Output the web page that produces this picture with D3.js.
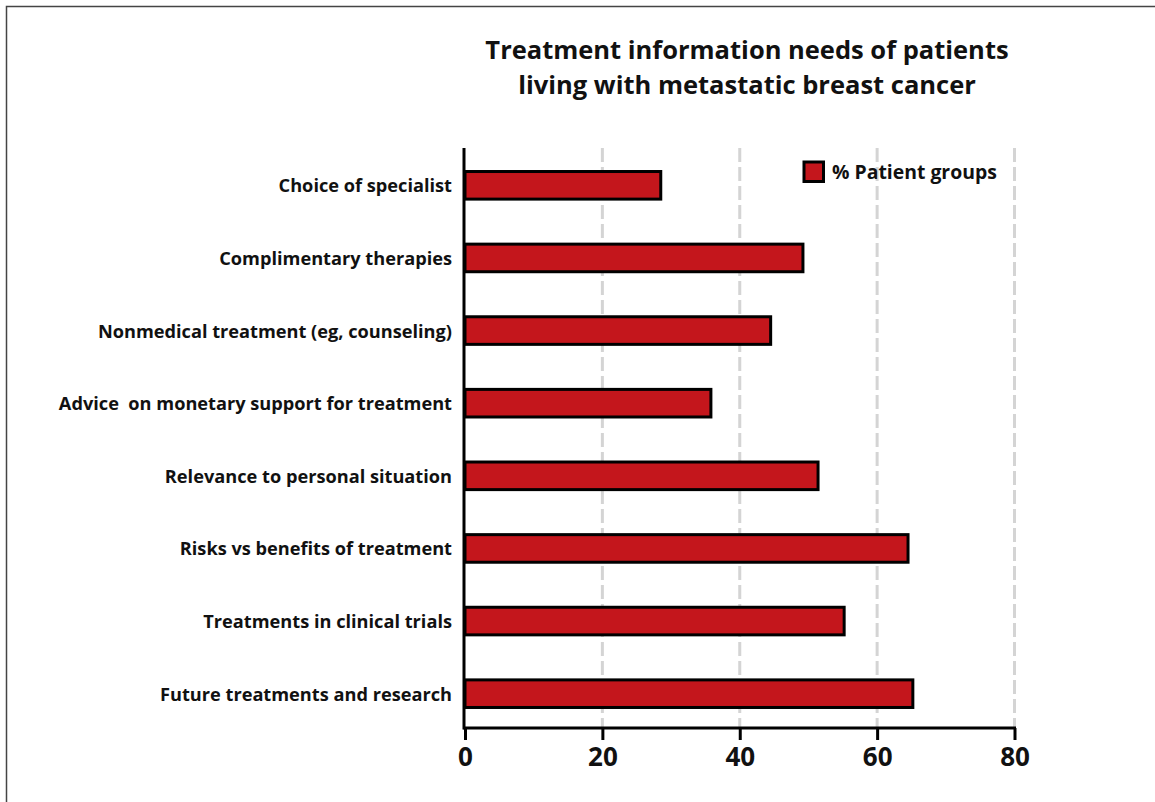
<!DOCTYPE html>
<html>
<head>
<meta charset="utf-8">
<script src="https://cdn.jsdelivr.net/npm/d3@7"></script>
<style>
  html, body { margin: 0; padding: 0; background: #fff; }
  svg { display: block; }
  text { font-family: "Open Sans", Lato, sans-serif; font-weight: bold; fill: #111; }
</style>
</head>
<body>
<svg id="chart" width="1155" height="802"></svg>
<script>
// Information topics, top to bottom
const categories = [
  "Choice of specialist",
  "Complimentary therapies",
  "Nonmedical treatment (eg, counseling)",
  "Advice  on monetary support for treatment",
  "Relevance to personal situation",
  "Risks vs benefits of treatment",
  "Treatments in clinical trials",
  "Future treatments and research"
];
// Share of patient groups (%) requesting each topic
const patientGroups = [28.5, 49.2, 44.5, 35.8, 51.4, 64.5, 55.2, 65.2];
const xTicks = [0, 20, 40, 60, 80];
const titleLines = ["Treatment information needs of patients", "living with metastatic breast cancer"];
const legendLabel = "% Patient groups";

const data = categories.map((c, i) => ({ category: c, value: patientGroups[i] }));

const svg = d3.select("#chart");
const W = 1155, H = 802;
const barFill = "#c4161c";

// outer frame
svg.append("rect")
  .attr("x", 6.5).attr("y", 6.5)
  .attr("width", W + 10).attr("height", H + 10)
  .attr("fill", "none").attr("stroke", "#444").attr("stroke-width", 1.5);

const plot = { left: 465, right: 1014.5, top: 148, bottom: 728 };

const x = d3.scaleLinear().domain([0, 80]).range([plot.left, plot.right]);
const y = d3.scaleBand()
  .domain(categories)
  .range([plot.top + 1, plot.bottom + 2])
  .paddingInner(0.62)
  .paddingOuter(0.31);

// title
svg.append("text")
  .attr("x", 747).attr("y", 59)
  .attr("text-anchor", "middle")
  .style("font-size", "25.5px")
  .selectAll("tspan")
  .data(titleLines)
  .join("tspan")
  .attr("x", 747)
  .attr("dy", (d, i) => i === 0 ? 0 : 35)
  .text(d => d);

// dashed vertical gridlines
svg.append("g")
  .selectAll("line")
  .data(xTicks.filter(t => t > 0))
  .join("line")
  .attr("x1", d => x(d)).attr("x2", d => x(d))
  .attr("y1", plot.top).attr("y2", plot.bottom)
  .attr("stroke", "#d4d4d4")
  .attr("stroke-width", 3)
  .attr("stroke-dasharray", "14 5");

// bars
svg.append("g")
  .selectAll("rect")
  .data(data)
  .join("rect")
  .attr("x", x(0))
  .attr("y", d => y(d.category))
  .attr("width", d => x(d.value) - x(0))
  .attr("height", y.bandwidth())
  .attr("fill", barFill)
  .attr("stroke", "#000")
  .attr("stroke-width", 3);

// category labels
svg.append("g")
  .selectAll("text")
  .data(data)
  .join("text")
  .attr("x", 452)
  .attr("y", d => y(d.category) + y.bandwidth() / 2 + 0.5)
  .attr("dy", "0.36em")
  .attr("text-anchor", "end")
  .style("font-size", "18.2px")
  .style("white-space", "pre")
  .text(d => d.category);

// x axis
const xAxis = d3.axisBottom(x)
  .tickValues(xTicks)
  .tickSize(12)
  .tickSizeOuter(0)
  .tickPadding(8);

const gx = svg.append("g")
  .attr("transform", `translate(0,${plot.bottom})`)
  .call(xAxis);
gx.select(".domain").attr("stroke", "#000").attr("stroke-width", 3)
  .attr("d", `M${plot.left - 1.5},0H${plot.right + 1.5}`);
gx.selectAll(".tick line").attr("stroke", "#000").attr("stroke-width", 3);
gx.selectAll(".tick text")
  .attr("fill", "#111")
  .style("font-family", "'Open Sans', Lato, sans-serif")
  .style("font-weight", "bold")
  .style("font-size", "26px");

// y axis line
svg.append("line")
  .attr("x1", plot.left - 1).attr("x2", plot.left - 1)
  .attr("y1", plot.top).attr("y2", plot.bottom + 1.5)
  .attr("stroke", "#000").attr("stroke-width", 3);

// legend
const legend = svg.append("g").attr("transform", "translate(804,162)");
legend.append("rect")
  .attr("width", 19.5).attr("height", 19.5)
  .attr("fill", barFill)
  .attr("stroke", "#000").attr("stroke-width", 3);
legend.append("text")
  .attr("x", 28).attr("y", 10)
  .attr("dy", "0.36em")
  .style("font-size", "19.4px")
  .text(legendLabel);
</script>
</body>
</html>
